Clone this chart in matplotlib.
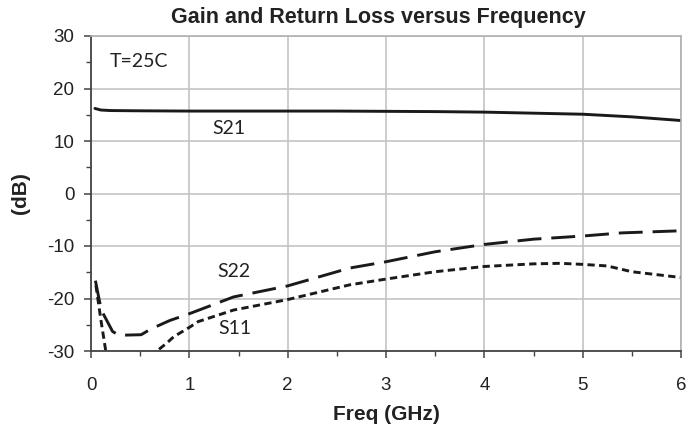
import numpy as np
import matplotlib
matplotlib.use('Agg')
import matplotlib.pyplot as plt
from matplotlib.ticker import MultipleLocator

# values
s21_freq = [0.04, 0.1, 0.2, 0.5, 1.0, 1.5, 2.0, 2.5, 3.0, 3.5, 4.0, 4.5, 5.0, 5.5, 6.0]
s21_db = [16.2, 15.9, 15.8, 15.75, 15.7, 15.7, 15.7, 15.7, 15.65, 15.6, 15.5, 15.3, 15.1, 14.6, 13.9]

s22_freq = [0.045, 0.085, 0.11, 0.22, 0.29, 0.51, 0.61, 0.8, 1.0, 1.45, 2.0, 2.63, 3.0, 3.5, 4.0, 4.5, 5.0, 5.4, 6.0]
s22_db = [-16.6, -20.4, -22.4, -26.3, -27.0, -26.9, -25.8, -24.2, -22.9, -19.7, -17.6, -14.2, -13.0, -11.1, -9.7, -8.7, -8.1, -7.5, -7.1]

s11_freq = [0.05, 0.1, 0.15, 0.2, 0.4, 0.6, 0.67, 0.77, 0.84, 1.0, 1.09, 1.45, 2.0, 2.63, 3.0, 3.5, 4.0, 4.5, 4.77, 5.0, 5.25, 5.5, 6.0]
s11_db = [-17.5, -24.0, -30.0, -34.0, -40.0, -33.0, -30.0, -28.5, -27.3, -25.5, -24.4, -22.2, -20.2, -17.4, -16.3, -14.9, -13.9, -13.4, -13.3, -13.5, -13.8, -14.9, -16.0]

plt.rcParams['font.family'] = ['Liberation Sans', 'DejaVu Sans']
plt.rcParams['axes.unicode_minus'] = False

fig = plt.figure(figsize=(6.93, 4.25), dpi=100)
ax = fig.add_axes([91/693, 1 - 351/425, 590/693, 315/425])

ax.plot(s21_freq, s21_db, color='#1a1a1a', lw=2.1, solid_capstyle='round')
ax.plot(s22_freq, s22_db, color='#1a1a1a', lw=2.1, dashes=(8.2, 3.4))
ax.plot(s11_freq, s11_db, color='#1a1a1a', lw=2.1, dashes=(2.5, 1.5))

ax.set_xlim(0, 6)
ax.set_ylim(-30, 30)
ax.xaxis.set_major_locator(MultipleLocator(1))
ax.xaxis.set_minor_locator(MultipleLocator(0.5))
ax.yaxis.set_major_locator(MultipleLocator(10))
ax.yaxis.set_minor_locator(MultipleLocator(5))
ax.grid(True, which='major', color='#c4c4c4', lw=1.2)
ax.set_axisbelow(True)

for side in ['left', 'bottom']:
    ax.spines[side].set_color('#444444')
    ax.spines[side].set_linewidth(1.3)
for side in ['top', 'right']:
    ax.spines[side].set_color('#b0b0b0')
    ax.spines[side].set_linewidth(1.2)

ax.tick_params(which='major', direction='out', length=5, width=1.1, color='#444444',
               labelsize=13.5, labelcolor='#222222', pad=7)
ax.tick_params(which='minor', direction='out', length=3.5, width=1.0, color='#444444')
ax.tick_params(axis='x', pad=14)

ax.set_xlabel('Freq (GHz)', fontsize=15, fontweight='bold', color='#222222', labelpad=8)
ax.set_ylabel('(dB)', fontsize=15, fontweight='bold', color='#222222', labelpad=12)
fig.text(378/693, 1 - 18/425, 'Gain and Return Loss versus Frequency', ha='center', va='center',
         fontsize=15.5, fontweight='bold', color='#222222')

lab = dict(fontsize=14, color='#222222', va='center', ha='left', family=['Lato', 'DejaVu Sans'])
ax.text(0.19, 25.2, 'T=25C', **lab)
ax.text(1.23, 12.3, 'S21', **lab)
ax.text(1.28, -14.8, 'S22', **lab)
ax.text(1.29, -25.8, 'S11', **lab)

fig.savefig('out.png', dpi=100)
